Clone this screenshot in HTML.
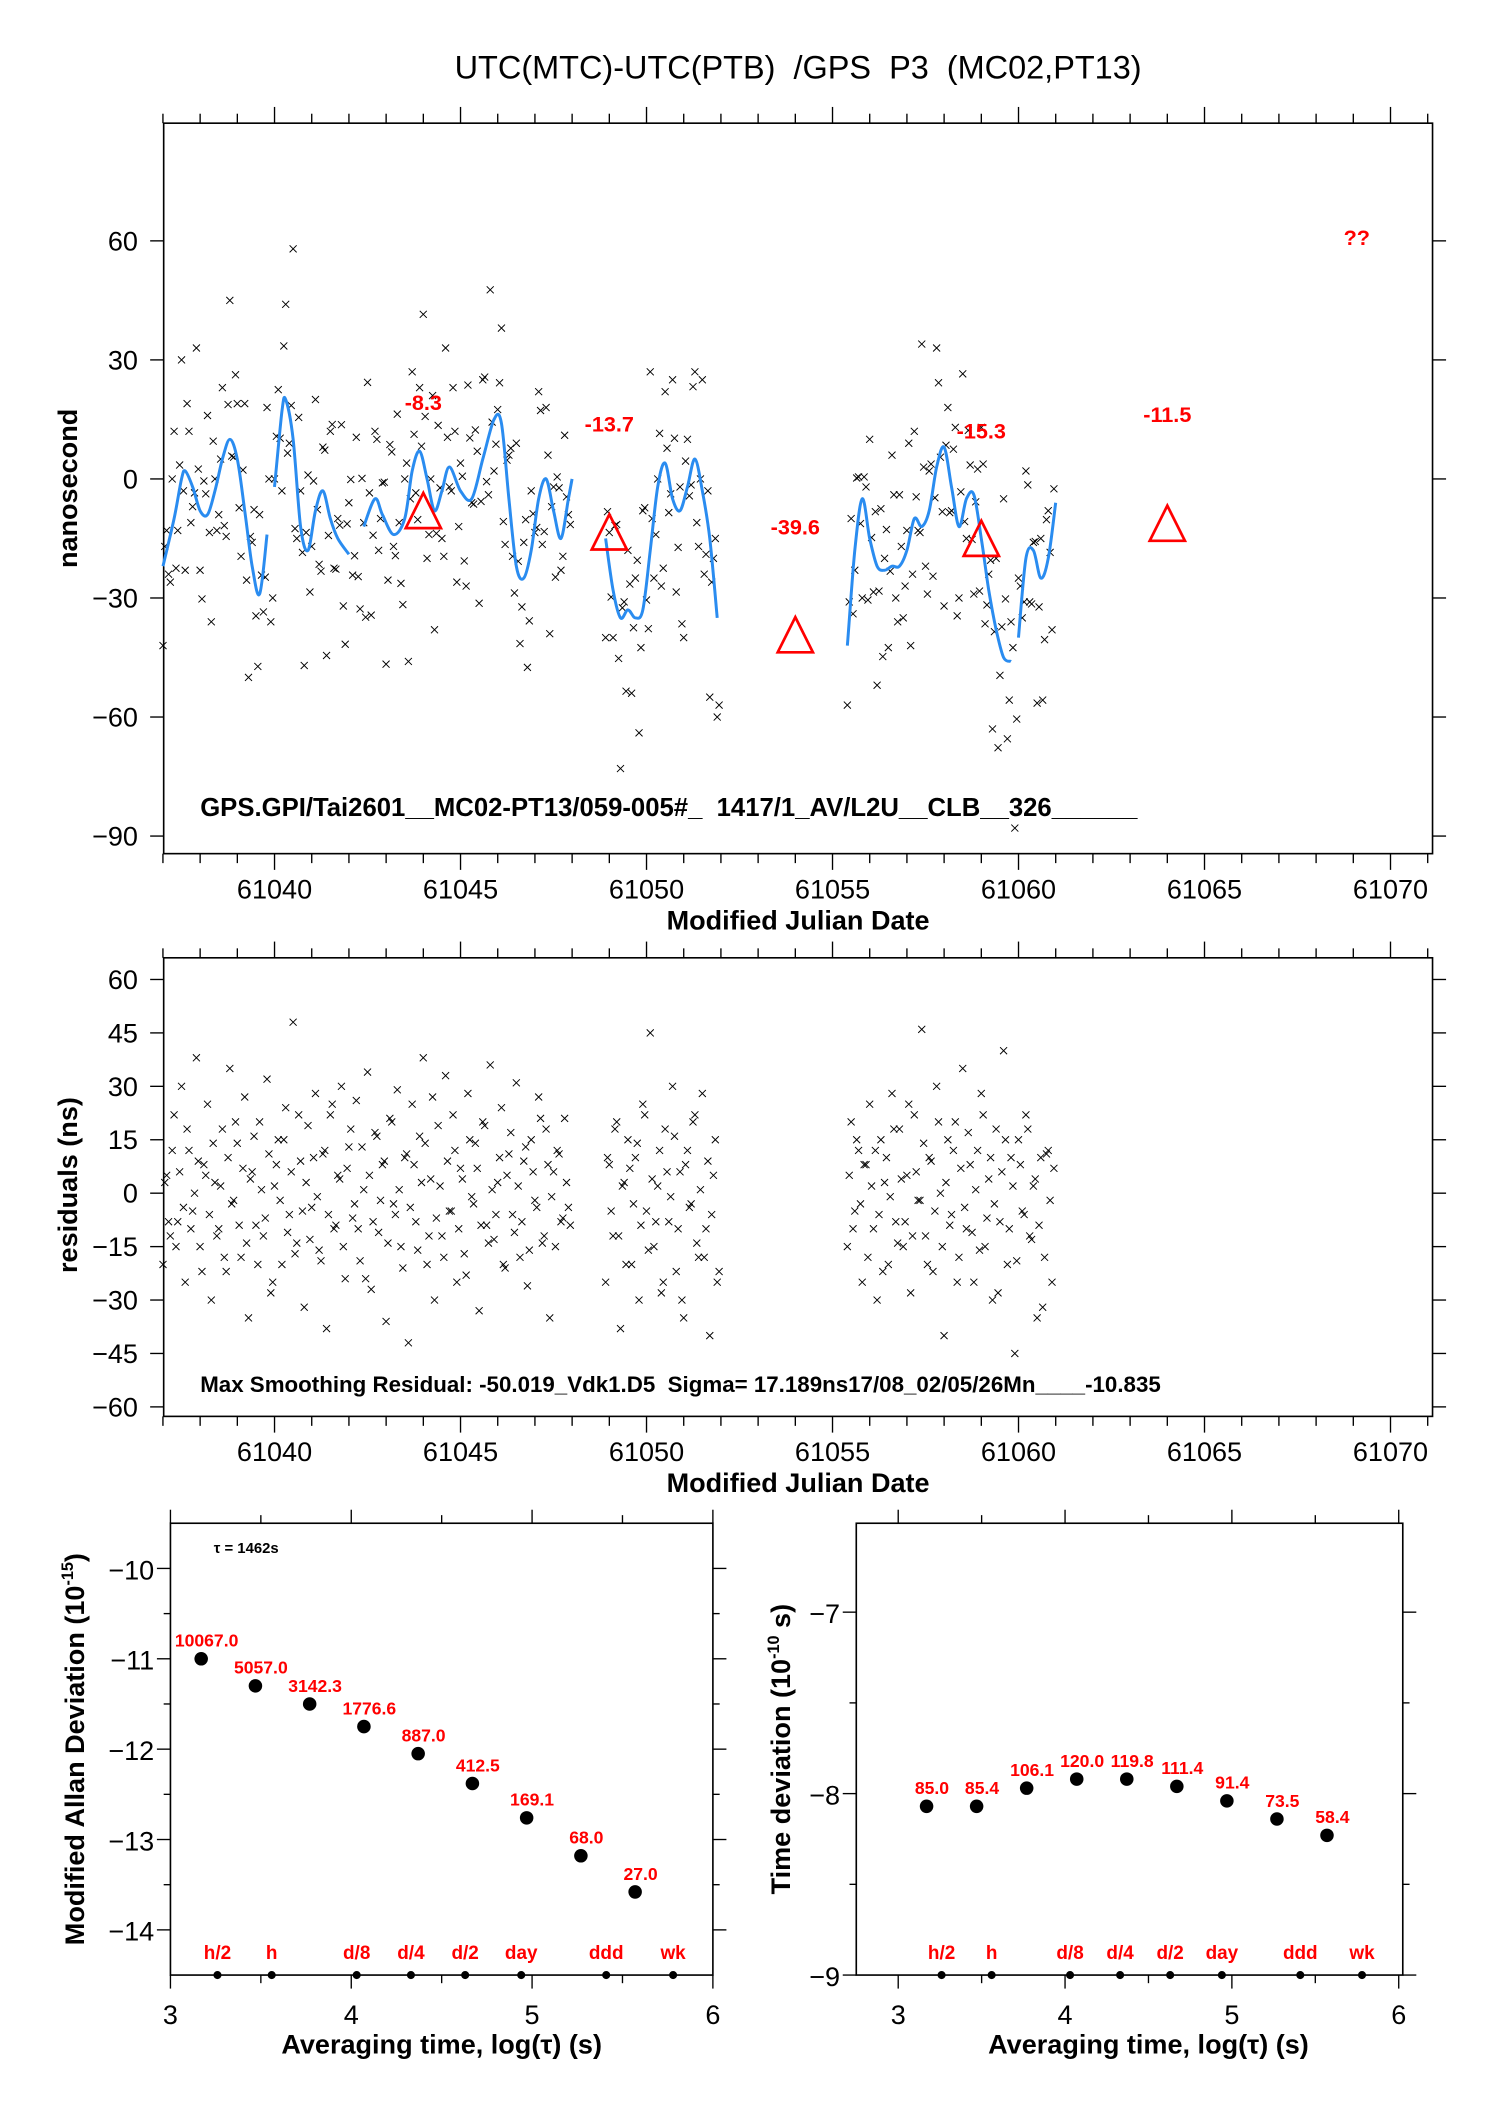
<!DOCTYPE html>
<html><head><meta charset="utf-8"><style>
html,body{margin:0;padding:0;background:#fff}
svg{display:block}
text{font-family:"Liberation Sans",sans-serif;white-space:pre}
</style></head><body>
<svg id="root" width="1488" height="2105" viewBox="0 0 1100 1556" xmlns="http://www.w3.org/2000/svg">
<rect width="1100" height="1556" fill="#fff"/>
<text x="590" y="58" font-size="24" text-anchor="middle" xml:space="preserve">UTC(MTC)-UTC(PTB)  /GPS  P3  (MC02,PT13)</text>
<g id="topG"></g>
<g id="mid"></g>
<g id="bl"></g>
<g id="br"></g>
</svg>
<script>
// ---- data ----
const curveDays=[61037.0,61037.3,61037.5,61037.6,61037.8,61038.0,61038.2,61038.4,61038.6,61038.8,61039.0,61039.2,61039.4,61039.6,61039.8,null,61040.0,61040.2,61040.3,61040.5,61040.7,61040.9,61041.1,61041.3,61041.5,61041.7,61042.0,null,61042.4,61042.7,61042.9,61043.2,61043.5,61043.7,61043.9,61044.1,61044.3,61044.5,61044.7,61045.0,61045.3,61045.6,61045.9,61046.1,61046.3,61046.5,61046.7,61046.9,61047.1,61047.3,61047.5,61047.7,61047.9,61048.0,null,61048.9,61049.1,61049.3,61049.5,61049.7,61049.9,61050.1,61050.3,61050.5,61050.7,61050.9,61051.1,61051.3,61051.5,61051.7,61051.9,null,61055.4,61055.6,61055.8,61056.0,61056.2,61056.4,61056.6,61056.8,61057.0,61057.2,61057.4,61057.6,61057.8,61058.0,61058.2,61058.4,61058.6,61058.8,61059.0,61059.2,61059.4,61059.6,61059.8,null,61060.0,61060.2,61060.4,61060.6,61060.8,61061.0];
const curveVals=[-22,-10,0,2,-2,-8,-9,-3,5,10,5,-8,-22,-29,-14,null,-2,17,20,10,-12,-18,-8,-3,-10,-15,-19,null,-12,-5,-9,-14,-10,2,7,0,-8,-3,3,-3,-5,5,15,14,-5,-22,-25,-18,-5,0,-8,-15,-5,0,null,-15,-28,-35,-33,-35,-33,-18,-2,4,-5,-8,-2,5,-3,-15,-35,null,-42,-18,-5,-15,-22,-23,-22,-22,-18,-10,-12,-8,3,8,-2,-12,-5,-4,-15,-28,-38,-45,-46,null,-40,-20,-18,-25,-20,-6];
const segStarts=[61037.0,61048.9,61055.4];
const res1=[-20,5,-12,22,-8,30,-25,12,-5,38,-15,8,25,-30,3,-10,18,-22,35,-2,14,-18,27,-35,6,-9,20,-12,32,-28,2,15,-20,24,-6,48,-14,9,-32,19,-4,28,-16,11,-38,22,-10,5,30,-24,13,-7,26,-19,1,34,-27,17,-11,8,-36,21,-3,29,-15,10,-42,25,-8,16,38,-20,4,-30,19,-12,33,-5,22,-25,7,-17,28,-1,14,-33,20,-9,36,-13,3,24,-21,11,-6,31,-18,9,-26,15,-2,27,-14,18,-35,6,12,-8,21,-4];
const res2=[-25,8,-12,20,-38,3,15,-20,10,-30,25,-5,45,-15,2,-28,18,-8,30,-22,6,-35,12,-3,22,-18,28,-10,-40,5,-25];
const res3=[-15,20,-5,12,-25,8,25,-10,-30,15,3,-20,28,-8,18,-15,5,-28,22,-2,46,-12,10,-22,30,0,-40,15,-6,20,-18,35,-10,8,-25,12,28,-15,4,-30,18,-8,40,-20,10,-45,15,-5,22,-12,2,-35,10,-18,12,-25];
const res1b=[3,-8,12,-15,6,-4,18,-10,0,9,-22,5,-6,14,-12,2,-18,10,-3,20,-9,7,-14,4,16,-20,1,-7,11,-25,8,-2,15,-11,6,-17,22,-5,3,-13,10,-1,-19,12,-6,25,-9,4,-15,7,18,-3,-10,13,-24,5,-8,16,-2,9,-14,20,-6,1,-21,11,-4,8,-16,3,14,-12,27,-7,2,-18,9,-5,12,-10,4,-23,15,-3,7,-9,19,-14,1,-6,10,-20,5,17,-11,2,-8,13,-16,6,-4,21,-12,8,-1,-15,11,-7,3,-9];
const res2b=[10,-5,18,-12,2,-20,7,-3,14,-9,22,-16,4,-8,12,-25,6,-1,16,-10,-30,8,-4,20,-14,1,-18,9,-6,15,-22];
const res3b=[5,-10,15,-3,8,-18,2,12,-6,-22,10,-1,18,-14,4,-8,25,-12,6,-2,14,-20,9,-5,20,-15,3,-9,12,-25,7,-4,17,-11,1,-16,22,-7,10,-3,-28,6,15,-10,2,-19,8,-6,18,-13,4,-9,-32,11,-2,7];
const triDays=[61044,61049,61054,61059,61064];
const triVals=[-8.3,-13.7,-39.6,-15.3,-11.5];
const triLabelNs=[19.4,14,-12,12.3,16.4];
const xTicksTop=[61040,61045,61050,61055,61060,61065,61070];
const yTicksTop=[60,30,0,-30,-60,-90];
const yTicksMid=[60,45,30,15,0,-15,-30,-45,-60];
const logTau=[3.17,3.47,3.77,4.07,4.37,4.67,4.97,5.27,5.57];
const madVals=[-11.0,-11.3,-11.5,-11.75,-12.05,-12.38,-12.76,-13.18,-13.58];
const madLabels=["10067.0","5057.0","3142.3","1776.6","887.0","412.5","169.1","68.0","27.0"];
const tdevVals=[-8.07,-8.07,-7.97,-7.92,-7.92,-7.96,-8.04,-8.14,-8.23];
const tdevLabels=["85.0","85.4","106.1","120.0","119.8","111.4","91.4","73.5","58.4"];
const markPos=[3.26,3.56,4.03,4.33,4.63,4.94,5.41,5.78];
const markNames=["h/2","h","d/8","d/4","d/2","day","ddd","wk"];
const NS="http://www.w3.org/2000/svg";
function mk(p,t,a,txt){const e=document.createElementNS(NS,t);for(const k in a)e.setAttribute(k,a[k]);if(txt!==undefined)e.textContent=txt;p.appendChild(e);return e;}
const minus=s=>String(s).replace('-','\u2212');
const xT=d=>121+(d-61037.02)*(938/34.11);
const yT=v=>354-v*(88/30);
const yM=v=>882-v*(2.633);
function curveAt(d){const pts=[];for(let i=0;i<curveDays.length;i++)if(curveDays[i]!==null)pts.push([curveDays[i],curveVals[i]]);
 if(d<=pts[0][0])return pts[0][1];for(let i=1;i<pts.length;i++){if(d<=pts[i][0]){const [a,va]=pts[i-1],[b,vb]=pts[i];if(b-a>1.5)return Math.abs(d-a)<Math.abs(d-b)?va:vb;return va+(vb-va)*(d-a)/(b-a);}}return pts[pts.length-1][1];}
function drawX(p,x,y){const s=2.6;mk(p,'path',{d:`M${(x-s).toFixed(1)} ${(y-s).toFixed(1)}L${(x+s).toFixed(1)} ${(y+s).toFixed(1)}M${(x-s).toFixed(1)} ${(y+s).toFixed(1)}L${(x+s).toFixed(1)} ${(y-s).toFixed(1)}`,stroke:'#000','stroke-width':0.7});}
// ---- top plot ----
const topG=document.getElementById('topG');
const fr=mk(topG,'rect',{x:121,y:91,width:938,height:540,fill:'none',stroke:'#000','stroke-width':1.2});


function mjdTicks(g,yTop,yBot){for(let d=61037;d<=61071;d++){const x=xT(d);const L=(d%5===0)?12:7;mk(g,'line',{x1:x,x2:x,y1:yTop,y2:yTop-L,stroke:'#000','stroke-width':1});mk(g,'line',{x1:x,x2:x,y1:yBot,y2:yBot+L,stroke:'#000','stroke-width':1});}}
mjdTicks(topG,91,631);
xTicksTop.forEach(d=>{const t=mk(topG,'text',{x:xT(d),y:664,'font-size':20,'text-anchor':'middle'},d);

});
yTicksTop.forEach(v=>{const y=yT(v);mk(topG,'line',{x1:121,x2:111,y1:y,y2:y,stroke:'#000'});mk(topG,'line',{x1:1059,x2:1069,y1:y,y2:y,stroke:'#000'});
const t=mk(topG,'text',{x:102,y:y+7,'font-size':20,'text-anchor':'end'},minus(v));

});
let t=mk(topG,'text',{x:590,y:687,'font-size':20,'font-weight':'bold','text-anchor':'middle'},'Modified Julian Date');


t=mk(topG,'text',{x:0,y:0,'font-size':20,'font-weight':'bold','text-anchor':'middle',transform:'translate(57,361) rotate(-90)'},'nanosecond');


const allRes=[res1,res2,res3];
const allResB=[res1b,res2b,res3b];
const scat=mk(topG,'g',{});


allRes.forEach((arr,si)=>arr.forEach((r,i)=>{const d=segStarts[si]+i*0.1;drawX(scat,xT(d),yT(curveAt(d)+r));}));
allResB.forEach((arr,si)=>arr.forEach((r,i)=>{const d=segStarts[si]+i*0.1+0.05;drawX(scat,xT(d),yT(curveAt(d)+r));}));
// smooth curve (Catmull-Rom per segment)
let dstr='';let seg=[];
function flush(){if(seg.length<2){seg=[];return;}dstr+='M'+seg[0][0].toFixed(1)+' '+seg[0][1].toFixed(1);
 for(let i=0;i<seg.length-1;i++){const p0=seg[Math.max(0,i-1)],p1=seg[i],p2=seg[i+1],p3=seg[Math.min(seg.length-1,i+2)];
 const c1=[p1[0]+(p2[0]-p0[0])/6,p1[1]+(p2[1]-p0[1])/6],c2=[p2[0]-(p3[0]-p1[0])/6,p2[1]-(p3[1]-p1[1])/6];
 dstr+=`C${c1[0].toFixed(1)} ${c1[1].toFixed(1)} ${c2[0].toFixed(1)} ${c2[1].toFixed(1)} ${p2[0].toFixed(1)} ${p2[1].toFixed(1)}`;}seg=[];}
for(let i=0;i<curveDays.length;i++){if(curveDays[i]===null){flush();continue;}seg.push([xT(curveDays[i]),yT(curveVals[i])]);}
flush();
const cv=mk(topG,'path',{d:dstr,fill:'none',stroke:'#2a8cf0','stroke-width':2.2,'stroke-linejoin':'round'});


triDays.forEach((d,i)=>{const x=xT(d),y=yT(triVals[i]);const tr=mk(topG,'path',{d:`M${x} ${y-14}L${x+13} ${y+12}L${x-13} ${y+12}Z`,fill:'none',stroke:'#f00','stroke-width':2});


const lb=mk(topG,'text',{x:x,y:yT(triLabelNs[i])+6,'font-size':16,'font-weight':'bold',fill:'#f00','text-anchor':'middle'},triVals[i].toFixed(1));

});
t=mk(topG,'text',{x:1003,y:181,'font-size':16,'font-weight':'bold',fill:'#f00','text-anchor':'middle'},'??');


t=mk(topG,'text',{x:148,y:603,'font-size':19,'font-weight':'bold'},'GPS.GPI/Tai2601__MC02-PT13/059-005#_  1417/1_AV/L2U__CLB__326______');


// ---- middle ----
const mid=document.getElementById('mid');
const fm=mk(mid,'rect',{x:121,y:708,width:938,height:339,fill:'none',stroke:'#000','stroke-width':1.2});


mjdTicks(mid,708,1047);
xTicksTop.forEach(d=>{const e=mk(mid,'text',{x:xT(d),y:1080,'font-size':20,'text-anchor':'middle'},d);

});
yTicksMid.forEach(v=>{const y=yM(v);mk(mid,'line',{x1:121,x2:111,y1:y,y2:y,stroke:'#000'});mk(mid,'line',{x1:1059,x2:1069,y1:y,y2:y,stroke:'#000'});
const e=mk(mid,'text',{x:102,y:y+7,'font-size':20,'text-anchor':'end'},minus(v));

});
t=mk(mid,'text',{x:590,y:1103,'font-size':20,'font-weight':'bold','text-anchor':'middle'},'Modified Julian Date');


t=mk(mid,'text',{x:0,y:0,'font-size':20,'font-weight':'bold','text-anchor':'middle',transform:'translate(57,876) rotate(-90)'},'residuals (ns)');


const rs=mk(mid,'g',{});


allRes.forEach((arr,si)=>arr.forEach((r,i)=>{const d=segStarts[si]+i*0.1;drawX(rs,xT(d),yM(r));}));
allResB.forEach((arr,si)=>arr.forEach((r,i)=>{const d=segStarts[si]+i*0.1+0.05;drawX(rs,xT(d),yM(r));}));
t=mk(mid,'text',{x:148,y:1029,'font-size':16.5,'font-weight':'bold'},'Max Smoothing Residual: -50.019_Vdk1.D5  Sigma= 17.189ns17/08_02/05/26Mn____-10.835');


// ---- bottom plots ----
function logPlot(g,x0,x1,lx0,lx1,y0,y1,v0,v1,yTicks,yMinor,vals,labels,ylabel,ysup,ytail,ylabX,fxLeft,fxRight){
 const X=v=>x0+(v-lx0)*(x1-x0)/(lx1-lx0);const Y=v=>y0+(v0-v)*(y1-y0)/(v0-v1);
 const fx0=fxLeft,fx1=fxRight;
 const f=mk(g,'rect',{x:fx0,y:y0,width:fx1-fx0,height:y1-y0,fill:'none',stroke:'#000','stroke-width':1.2});
 
 
 for(let v=3;v<=6.001;v+=0.5){const x=X(v),L=(Math.abs(v-Math.round(v))<0.01)?10:6;mk(g,'line',{x1:x,x2:x,y1:y0,y2:y0-L,stroke:'#000'});mk(g,'line',{x1:x,x2:x,y1:y1,y2:y1+L,stroke:'#000'});}
 [3,4,5,6].forEach(v=>{const e=mk(g,'text',{x:X(v),y:y1+36,'font-size':20,'text-anchor':'middle'},v);
  
  });
 yMinor.forEach(v=>{const y=Y(v);mk(g,'line',{x1:fx1,x2:fx1+5,y1:y,y2:y,stroke:'#000'});mk(g,'line',{x1:fx0,x2:fx0-5,y1:y,y2:y,stroke:'#000'});});
 yTicks.forEach(v=>{const y=Y(v);mk(g,'line',{x1:fx1,x2:fx1+10,y1:y,y2:y,stroke:'#000'});mk(g,'line',{x1:fx0,x2:fx0-10,y1:y,y2:y,stroke:'#000'});
  const e=mk(g,'text',{x:fx0-12,y:y+8,'font-size':20,'text-anchor':'end'},minus(v));
  
  });
 logTau.forEach((lt,i)=>{const c=mk(g,'circle',{cx:X(lt),cy:Y(vals[i]),r:5,fill:'#000'});
  
  
  const e=mk(g,'text',{x:X(lt)+4,y:Y(vals[i])-9,'font-size':13,'font-weight':'bold',fill:'#f00','text-anchor':'middle'},labels[i]);
  
  });
 markPos.forEach((m,i)=>{mk(g,'circle',{cx:X(m),cy:y1,r:3,fill:'#000'});const e=mk(g,'text',{x:X(m),y:y1-12,'font-size':14,'font-weight':'bold',fill:'#f00','text-anchor':'middle'},markNames[i]);
  
  });
 const e=mk(g,'text',{x:(X(3)+X(6))/2,y:y1+58,'font-size':20,'font-weight':'bold','text-anchor':'middle'},'Averaging time, log(\u03c4) (s)');
 
 
 const yt=mk(g,'text',{x:0,y:0,'font-size':20,'font-weight':'bold','text-anchor':'middle',transform:`translate(${ylabX},${(y0+y1)/2}) rotate(-90)`},ylabel);
 mk(yt,'tspan',{'font-size':12,dy:-8},ysup);mk(yt,'tspan',{dy:8},ytail);
 
 
}
const bl=document.getElementById('bl');
logPlot(bl,126,527,3,6,1126,1460,-9.5,-14.5,[-10,-11,-12,-13,-14],[-10.5,-11.5,-12.5,-13.5],madVals,madLabels,'Modified Allan Deviation (10','-15',')',62,126,527);
t=mk(bl,'text',{x:158,y:1148,'font-size':11,'font-weight':'bold'},'\u03c4 = 1462s');


const br=document.getElementById('br');
logPlot(br,664,1034,3,6,1126,1460,-6.51,-9,[-7,-8,-9],[-7.5,-8.5],tdevVals,tdevLabels,'Time deviation (10','-10',' s)',584,633,1037);
</script>
</body></html>
